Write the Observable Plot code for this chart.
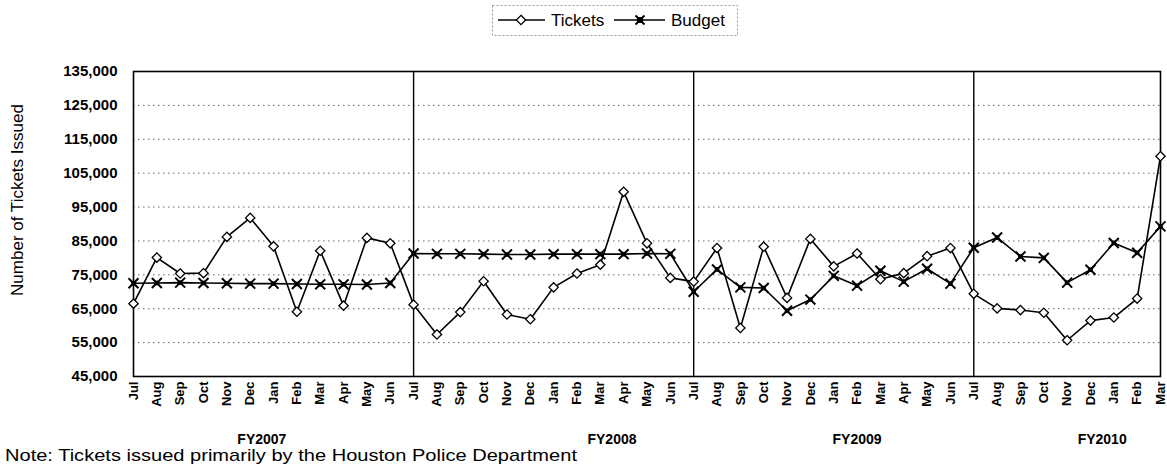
<!DOCTYPE html>
<html>
<head>
<meta charset="utf-8">
<script src="https://cdn.jsdelivr.net/npm/d3@7"></script>
<script src="https://cdn.jsdelivr.net/npm/@observablehq/plot@0.6"></script>
<style>
  html, body { margin: 0; padding: 0; background: #fff; }
  body { font-family: "Liberation Sans", Arial, sans-serif; color: #000; }
  #wrap { position: relative; width: 1167px; height: 465px; overflow: hidden; }
  #legend { position: absolute; left: 0; top: 0; width: 1167px; height: 38px; }
  #chart { position: absolute; left: 0; top: 38px; }
  #note { position: absolute; left: 5px; top: 447px; font-size: 17px; line-height: 17px; white-space: nowrap; transform: scaleX(1.18); transform-origin: 0 0; }
  #chart svg { overflow: visible; }
  #chart g[aria-label="y-axis tick label"] { font-size: 15px; font-weight: bold; }
  #chart g[aria-label="x-axis tick label"] { font-size: 13px; font-weight: bold; }
</style>
</head>
<body>
<div id="wrap">
  <div id="legend"></div>
  <div id="chart"></div>
  <div id="note">Note: Tickets issued primarily by the Houston Police Department</div>
</div>
<script>
// Month tick labels (Jul FY2007 through Mar FY2010)
const monthLabels = [
  "Jul","Aug","Sep","Oct","Nov","Dec","Jan","Feb","Mar","Apr","May","Jun",
  "Jul","Aug","Sep","Oct","Nov","Dec","Jan","Feb","Mar","Apr","May","Jun",
  "Jul","Aug","Sep","Oct","Nov","Dec","Jan","Feb","Mar","Apr","May","Jun",
  "Jul","Aug","Sep","Oct","Nov","Dec","Jan","Feb","Mar"
];
const fiscalYears = ["FY2007", "FY2008", "FY2009", "FY2010"];

// Tickets issued per month
const tickets = [
  66500, 80100, 75400, 75500, 86200, 91800, 83400, 64100, 82100, 65900, 85900, 84300,
  66200, 57400, 64000, 73100, 63300, 61900, 71300, 75400, 78000, 99500, 84300, 74100,
  73000, 82900, 59300, 83300, 68200, 85600, 77500, 81300, 73700, 75500, 80500, 82900,
  69400, 65100, 64600, 63800, 55700, 61500, 62400, 68000, 110000
];
// Budgeted tickets per month
const budget = [
  72500, 72600, 72700, 72600, 72500, 72400, 72400, 72300, 72200, 72200, 72150, 72600,
  81300, 81200, 81200, 81100, 81000, 81000, 81100, 81100, 81100, 81100, 81300, 81200,
  70000, 76600, 71300, 71100, 64400, 67700, 74700, 71800, 76200, 73000, 76800, 72400,
  83000, 86000, 80400, 80000, 72700, 76500, 84400, 81500, 89300
];
const yTicks = [45000, 55000, 65000, 75000, 85000, 95000, 105000, 115000, 125000, 135000];
const fyDividers = [12, 24, 36];

const rows = tickets.map((v, i) => ({i, tickets: v, budget: budget[i]}));
const fyPos = [5.5, 20.5, 31, 41.5];
const fyRows = fiscalYears.map((label, k) => ({label, x: fyPos[k]}));
const fmt = d3.format(",");

const chart = Plot.plot({
  width: 1167,
  height: 412,
  marginTop: 33,
  marginBottom: 74,
  marginLeft: 133,
  marginRight: 7,
  style: {fontFamily: "'Liberation Sans', Arial, sans-serif", color: "#000", background: "#fff"},
  x: {domain: [0, 44], axis: null},
  y: {domain: [45000, 135000], axis: null},
  marks: [
    Plot.gridY(yTicks.slice(1, -1), {stroke: "#666", strokeOpacity: 1, strokeWidth: 1, strokeDasharray: "1.5,3.5"}),
    Plot.ruleX(fyDividers, {stroke: "#000", strokeWidth: 1.4}),
    Plot.frame({stroke: "#000", strokeWidth: 1.6}),
    Plot.axisY({ticks: yTicks, tickFormat: d => fmt(d), tickSize: 0, tickPadding: 16, label: null, fill: "#000"}),
    Plot.axisX({ticks: d3.range(monthLabels.length), tickFormat: i => monthLabels[i], tickRotate: -90, tickSize: 0, tickPadding: 5, label: null, fill: "#000"}),
    Plot.line(rows, {x: "i", y: "budget", stroke: "#000", strokeWidth: 1.6}),
    Plot.line(rows, {x: "i", y: "tickets", stroke: "#000", strokeWidth: 1.6}),
    Plot.dot(rows, {x: "i", y: "budget", symbol: "square", r: 2.6, fill: "#000", stroke: "none"}),
    Plot.dot(rows, {x: "i", y: "budget", symbol: "times", r: 4.6, stroke: "#000", strokeWidth: 2}),
    Plot.dot(rows, {x: "i", y: "tickets", symbol: "diamond2", r: 4.2, fill: "#fff", stroke: "#000", strokeWidth: 1.3}),
    Plot.text(fyRows, {x: "x", text: "label", frameAnchor: "bottom", dy: 67, lineAnchor: "bottom", fontSize: 14, fontWeight: "bold", fill: "#000"}),
    Plot.text(["Number of Tickets Issued"], {frameAnchor: "left", dx: -116, dy: -24, rotate: -90, fontSize: 17, fill: "#000", textAnchor: "middle"})
  ]
});
document.getElementById("chart").appendChild(chart);

// Legend (above the chart)
const ns = "http://www.w3.org/2000/svg";
const lg = document.createElementNS(ns, "svg");
lg.setAttribute("width", 1167);
lg.setAttribute("height", 38);
lg.innerHTML = `
  <rect x="492.5" y="5.5" width="245" height="30" fill="#fff" stroke="#999" stroke-width="1" stroke-dasharray="2,2"/>
  <line x1="498" y1="20" x2="545" y2="20" stroke="#000" stroke-width="1.6"/>
  <path d="M521,15.3L525.7,20L521,24.7L516.3,20Z" fill="#fff" stroke="#000" stroke-width="1.3"/>
  <text x="551" y="26" font-size="17" font-family="'Liberation Sans', Arial, sans-serif">Tickets</text>
  <line x1="614" y1="20" x2="665" y2="20" stroke="#000" stroke-width="1.6"/>
  <rect x="637" y="17" width="6" height="6" fill="#000"/>
  <path d="M635.5,15.5L644.5,24.5M644.5,15.5L635.5,24.5" stroke="#000" stroke-width="2"/>
  <text x="671" y="26" font-size="17" font-family="'Liberation Sans', Arial, sans-serif">Budget</text>
`;
document.getElementById("legend").appendChild(lg);
</script>
</body>
</html>
